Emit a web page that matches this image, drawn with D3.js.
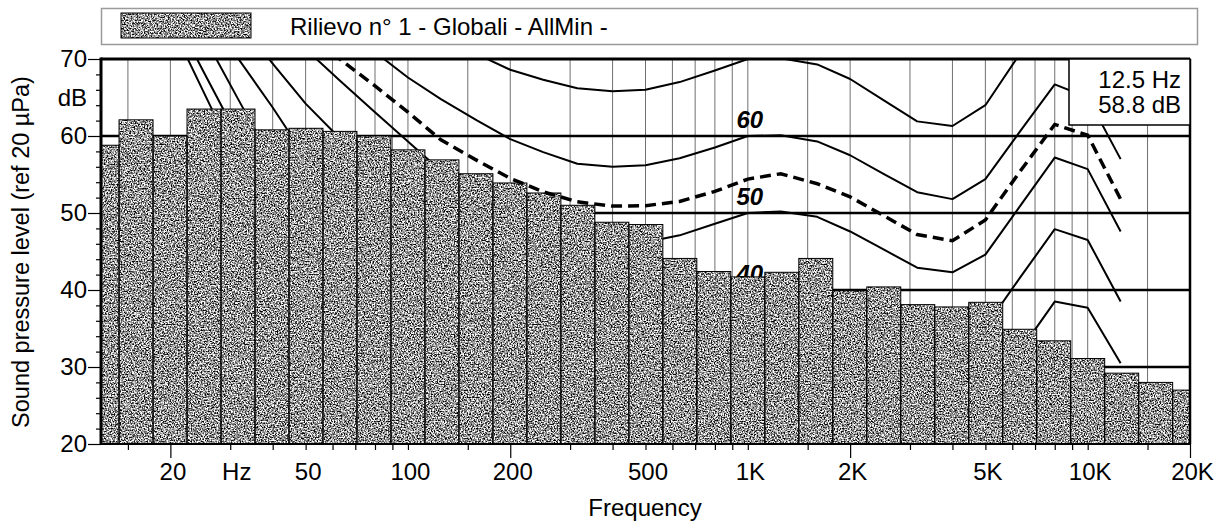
<!DOCTYPE html>
<html>
<head>
<meta charset="utf-8">
<script src="https://cdn.jsdelivr.net/npm/d3@7"></script>
<style>
  body { margin: 0; background: #fff; }
  text { font-family: "Liberation Sans", Arial, sans-serif; fill: #000; }
</style>
</head>
<body>
<script>
'use strict';

// 1/3 octave bands and measured levels (dB)
const bands = [12.5, 16, 20, 25, 31.5, 40, 50, 63, 80, 100, 125, 160, 200, 250, 315, 400, 500, 630, 800,
  1000, 1250, 1600, 2000, 2500, 3150, 4000, 5000, 6300, 8000, 10000, 12500, 16000, 20000];
const levels = [58.8, 62.1, 60.0, 63.5, 63.5, 60.8, 61.0, 60.6, 60.0, 58.2, 56.9, 55.1, 53.9, 52.6, 51.0, 48.8, 48.5, 44.1, 42.4,
  41.7, 42.3, 44.1, 39.9, 40.4, 38.1, 37.8, 38.4, 34.9, 33.4, 31.1, 29.2, 28.0, 27.0];

// contour curves, values at these frequencies (null = not drawn)
const curveFreqs = [20, 25, 31.5, 40, 50, 63, 80, 100, 125, 160, 200, 250, 315, 400, 500, 630, 800,
  1000, 1250, 1600, 2000, 2500, 3150, 4000, 5000, 6300, 8000, 10000, 12500];
const contour70 = [null, null, null, null, null, null, null, null, 74.8, 70.6, 68.6, 67.3, 66.2, 65.8, 66.0, 67.0, 68.5,
  70.0, 70.1, 69.3, 67.4, 64.7, 61.9, 61.3, 64.0, 70.6, 76.2, 74.7, 66.5];
const contour60 = [null, null, null, null, null, 75.0, 70.9, 67.6, 64.8, 62.0, 59.6, 57.9, 56.4, 56.0, 56.2, 57.1, 58.5,
  60.0, 60.1, 59.3, 57.5, 55.1, 52.7, 51.8, 54.4, 60.5, 66.7, 65.0, 57.0];
const contour50 = [null, null, null, 76.0, 71.3, 67.2, 63.1, 59.3, 55.5, 52.3, 49.8, 47.9, 46.4, 46.0, 46.2, 47.1, 48.6,
  50.0, 50.2, 49.5, 47.6, 45.3, 42.9, 42.3, 44.6, 50.8, 57.2, 55.7, 47.6];
const contour40 = [null, null, 75.2, 69.4, 64.2, 59.7, 55.5, 51.5, 47.8, 44.0, 41.0, 38.5, 37.0, 36.2, 36.2, 37.1, 38.6,
  40.0, 40.2, 39.5, 37.6, 35.3, 32.9, 32.3, 35.2, 41.5, 47.9, 46.5, 38.5];
const contour30 = [null, 76.4, 70.2, 63.7, 57.2, 52.0, 47.0, 43.0, 39.0, 35.0, 32.0, 29.0, 27.5, 26.5, 26.3, 27.2, 28.7,
  30.0, 30.2, 29.5, 27.6, 25.3, 23.0, 22.4, 25.6, 32.0, 38.5, 37.7, 30.5];
const contour20 = [null, 73.1, 64.95, 56.6, 49.0, 43.0, 38.0, 34.0, 30.0, 26.5, 23.5, 21.0, null, null, null, null, null,
  null, null, null, null, null, null, null, null, null, 29.2, 28.7, 22.5];
const contour10 = [76.7, 68.4, 60.0, 52.0, null, null, null, null, null, null, null, null, null, null, null, null, null,
  null, null, null, null, null, null, null, null, null, null, null, null];
const contour0 = [74.7, 65.8, 56.6, null, null, null, null, null, null, null, null, null, null, null, null, null, null,
  null, null, null, null, null, null, null, null, null, null, null, null];
const dashed55 = [null, null, null, null, 73.4, 70.0, 66.5, 63.1, 59.5, 56.8, 54.5, 52.75, 51.45, 50.9, 50.95, 51.5, 52.8,
  54.4, 55.1, 53.8, 52.1, 49.7, 47.2, 46.4, 49.1, 55.3, 61.5, 60.1, 51.8];

const contourLabels = ["60", "50", "40"];
const contourLabelValues = [60, 50, 40];

// axis ticks
const xTicks = [15, 20, 30, 40, 50, 60, 70, 80, 90, 100, 150, 200, 300, 400, 500, 600, 700, 800, 900, 1000,
  1500, 2000, 3000, 4000, 5000, 6000, 7000, 8000, 9000, 10000, 15000, 20000];
const xMajor = [20, 200, 2000, 20000];
const xLabels = {20: "20", 30: "Hz", 50: "50", 100: "100", 200: "200", 500: "500",
  1000: "1K", 2000: "2K", 5000: "5K", 10000: "10K", 20000: "20K"};
const yTicks = d3.range(20, 71, 2);
const yGrid = [30, 40, 50, 60];

const legendText = "Rilievo n\u00b0 1 - Globali - AllMin -";
const infoLines = ["12.5 Hz", "58.8 dB"];

const width = 1219, height = 522;
const plotL = 101, plotR = 1190, plotT = 59, plotB = 444;

const svg = d3.select("body").append("svg")
  .attr("width", width)
  .attr("height", height);

const x = d3.scaleLog().domain([12.5, 20000]).range([plotL, plotR]);
const y = d3.scaleLinear().domain([20, 70]).range([plotB, plotT]);

const defs = svg.append("defs");
defs.append("clipPath").attr("id", "plot")
  .append("rect")
  .attr("x", plotL).attr("y", plotT)
  .attr("width", plotR - plotL).attr("height", plotB - plotT);

// speckled grey fill like the printed bars
let grain = defs.append("filter")
  .attr("id", "grain")
  .attr("x", 0).attr("y", 0).attr("width", 1).attr("height", 1)
  .attr("color-interpolation-filters", "sRGB");
grain.append("feTurbulence")
  .attr("type", "fractalNoise")
  .attr("baseFrequency", 0.7)
  .attr("numOctaves", 2)
  .attr("seed", 7)
  .attr("result", "noise");
grain.append("feColorMatrix")
  .attr("in", "noise")
  .attr("type", "matrix")
  .attr("values", "2.8 0 0 0 -0.82  2.8 0 0 0 -0.82  2.8 0 0 0 -0.82  0 0 0 0 1")
  .attr("result", "gray");
grain.append("feComposite")
  .attr("in", "gray")
  .attr("in2", "SourceGraphic")
  .attr("operator", "in");

// vertical grid
svg.append("g")
  .selectAll("line")
  .data(xTicks)
  .enter()
  .append("line")
  .attr("x1", d => x(d)).attr("x2", d => x(d))
  .attr("y1", plotT).attr("y2", plotB)
  .attr("stroke", "#707070")
  .attr("stroke-width", 1);

// horizontal grid
svg.append("g")
  .selectAll("line")
  .data(yGrid)
  .enter()
  .append("line")
  .attr("x1", plotL).attr("x2", plotR)
  .attr("y1", d => y(d)).attr("y2", d => y(d))
  .attr("stroke", "#000")
  .attr("stroke-width", 2.5);

// solid contours
let line = d3.line()
  .defined(d => d[1] !== null)
  .x(d => x(d[0]))
  .y(d => y(d[1]));

let solid = [contour70, contour60, contour50, contour40, contour30, contour20, contour10, contour0];
svg.append("g")
  .attr("clip-path", "url(#plot)")
  .selectAll("path")
  .data(solid)
  .enter()
  .append("path")
  .attr("d", vals => line(vals.map((v, i) => [curveFreqs[i], v])))
  .attr("fill", "none")
  .attr("stroke", "#000")
  .attr("stroke-width", 2)
  .attr("stroke-linejoin", "round");

svg.append("g")
  .selectAll("text")
  .data(contourLabels)
  .enter()
  .append("text")
  .attr("x", x(1000) + 2)
  .attr("y", (d, i) => y(contourLabelValues[i]) - 8)
  .attr("text-anchor", "middle")
  .attr("font-size", 24)
  .attr("font-weight", "bold")
  .attr("font-style", "italic")
  .text(d => d);

// bars
let edge = (f, s) => Math.pow(10, (Math.round(10 * Math.log10(f)) + s) / 10);
let barData = bands.map((f, i) => ({f: f, v: levels[i]}));
let barG = svg.append("g").attr("clip-path", "url(#plot)");
barG.append("g")
  .attr("filter", "url(#grain)")
  .selectAll("rect")
  .data(barData)
  .enter()
  .append("rect")
  .attr("x", d => x(edge(d.f, -0.5)))
  .attr("width", d => x(edge(d.f, 0.5)) - x(edge(d.f, -0.5)))
  .attr("y", d => y(d.v))
  .attr("height", d => plotB - y(d.v))
  .attr("fill", "#888");
barG.append("g")
  .selectAll("rect")
  .data(barData)
  .enter()
  .append("rect")
  .attr("x", d => x(edge(d.f, -0.5)))
  .attr("width", d => x(edge(d.f, 0.5)) - x(edge(d.f, -0.5)))
  .attr("y", d => y(d.v))
  .attr("height", d => plotB - y(d.v))
  .attr("fill", "none")
  .attr("stroke", "#000")
  .attr("stroke-width", 1);

// dashed curve
svg.append("path")
  .attr("clip-path", "url(#plot)")
  .attr("d", line(dashed55.map((v, i) => [curveFreqs[i], v])))
  .attr("fill", "none")
  .attr("stroke", "#000")
  .attr("stroke-width", 3.5)
  .attr("stroke-dasharray", "11,6");

// axes
let xAxis = d3.axisBottom(x)
  .tickValues(xTicks)
  .tickSize(6)
  .tickPadding(12)
  .tickFormat(d => xLabels[d] || "");
let gx = svg.append("g")
  .attr("transform", "translate(0," + plotB + ")")
  .call(xAxis);
gx.select(".domain").remove();
gx.selectAll(".tick line")
  .attr("stroke", "#000")
  .attr("stroke-width", 1.2)
  .attr("y2", d => xMajor.includes(d) ? 14 : 6);
gx.selectAll(".tick text")
  .attr("font-size", 24)
  .attr("font-family", null)
  .attr("dx", d => d === 30 ? 6 : 2)
  .attr("y", 19);

let yAxis = d3.axisLeft(y)
  .tickValues(yTicks)
  .tickSize(5)
  .tickPadding(3)
  .tickFormat(d => d % 10 === 0 ? d : "");
let gy = svg.append("g")
  .attr("transform", "translate(" + plotL + ",0)")
  .call(yAxis);
gy.select(".domain").remove();
gy.selectAll(".tick line")
  .attr("stroke", "#000")
  .attr("stroke-width", 1.2)
  .attr("x2", d => d % 10 === 0 ? -13 : -5);
gy.selectAll(".tick text")
  .attr("font-size", 24)
  .attr("font-family", null)
  .attr("x", -14);

svg.append("text")
  .attr("x", plotL - 14)
  .attr("y", y(65))
  .attr("dy", "0.35em")
  .attr("text-anchor", "end")
  .attr("font-size", 24)
  .text("dB");

// frame
svg.append("line")
  .attr("x1", plotL).attr("x2", plotR).attr("y1", plotT).attr("y2", plotT)
  .attr("stroke", "#000").attr("stroke-width", 3);
svg.append("line")
  .attr("x1", plotR).attr("x2", plotR).attr("y1", plotT).attr("y2", plotB)
  .attr("stroke", "#000").attr("stroke-width", 2.5);
svg.append("line")
  .attr("x1", plotL - 1).attr("x2", plotR + 1).attr("y1", plotB).attr("y2", plotB)
  .attr("stroke", "#000").attr("stroke-width", 2);
svg.append("line")
  .attr("x1", plotL).attr("x2", plotL).attr("y1", plotT - 1.5).attr("y2", plotB + 1)
  .attr("stroke", "#000").attr("stroke-width", 3);

// axis titles
svg.append("text")
  .attr("x", 645)
  .attr("y", 516)
  .attr("text-anchor", "middle")
  .attr("font-size", 24)
  .text("Frequency");
svg.append("text")
  .attr("transform", "translate(29,252) rotate(-90)")
  .attr("text-anchor", "middle")
  .attr("font-size", 23.5)
  .text("Sound pressure level (ref 20 \u00b5Pa)");

// info box
svg.append("rect")
  .attr("x", 1069).attr("y", plotT)
  .attr("width", plotR - 1069).attr("height", 66)
  .attr("fill", "#fff")
  .attr("stroke", "#000")
  .attr("stroke-width", 1.5);
svg.append("g")
  .selectAll("text")
  .data(infoLines)
  .enter()
  .append("text")
  .attr("x", 1181)
  .attr("y", (d, i) => 88 + i * 25)
  .attr("text-anchor", "end")
  .attr("font-size", 24)
  .text(d => d);

// legend
svg.append("rect")
  .attr("x", 101.5).attr("y", 8.5)
  .attr("width", 1096).attr("height", 36)
  .attr("fill", "none")
  .attr("stroke", "#9a9a9a")
  .attr("stroke-width", 1.5);
svg.append("rect")
  .attr("x", 121).attr("y", 13)
  .attr("width", 130).attr("height", 25)
  .attr("fill", "#888")
  .attr("filter", "url(#grain)");
svg.append("rect")
  .attr("x", 121).attr("y", 13)
  .attr("width", 130).attr("height", 25)
  .attr("fill", "none")
  .attr("stroke", "#000")
  .attr("stroke-width", 1);
svg.append("text")
  .attr("x", 290)
  .attr("y", 35)
  .attr("font-size", 24)
  .text(legendText);
</script>
</body>
</html>
